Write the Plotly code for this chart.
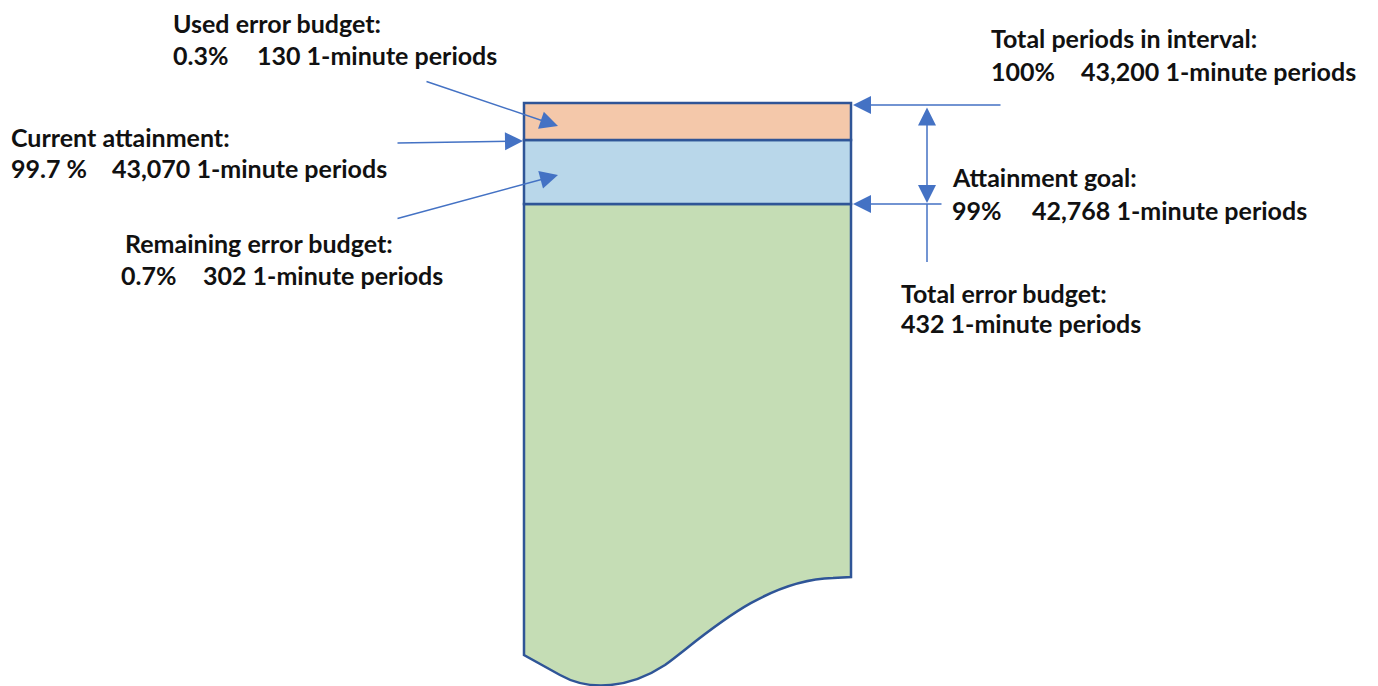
import plotly.graph_objects as go

# values shown in the diagram
label_titles = ["Used error budget:", "Current attainment:", "Remaining error budget:",
                "Total periods in interval:", "Attainment goal:", "Total error budget:"]
label_percents = ["0.3%", "99.7 %", "0.7%", "100%", "99%", ""]
label_periods = [130, 43070, 302, 43200, 42768, 432]

# diagram geometry (pixel space, y grows downwards)
title_pos = [(174, 23), (12, 137), (126, 243), (992, 38), (953, 177), (902, 293)]
value_pos = [(174, 55, 258), (12, 168, 113), (122, 275, 204),
             (992, 71, 1082), (953, 210, 1033), (902, 323, 902)]

W, H = 1378, 686
PAD = 8  # page body margin
TX = -3  # font side bearing
RX0, RX1 = 524, 851
Y_TOP, Y_USED, Y_GOAL = 103, 140, 204

BORDER = "#2F5597"
ARROW = "#4472C4"
FONT = "Lato"
FS = 25

fig = go.Figure()
fig.add_trace(go.Scatter(x=[0, W], y=[0, H], mode="markers", marker=dict(opacity=0),
                         hoverinfo="skip", showlegend=False))

# green body with wavy bottom
fig.add_shape(type="path", xref="x", yref="y",
              path=(f"M {RX0},{Y_GOAL} L {RX1},{Y_GOAL} L {RX1},577 L 833,578 "
                    f"C 760,580 700,640 665,665 C 630,688 590,692 560,675 L {RX0},655 Z"),
              fillcolor="#C5DDB5", line=dict(color=BORDER, width=2.5), layer="below")
fig.add_shape(type="rect", x0=RX0, x1=RX1, y0=Y_USED, y1=Y_GOAL,
              fillcolor="#B9D7EA", line=dict(color=BORDER, width=2.5), layer="below")
fig.add_shape(type="rect", x0=RX0, x1=RX1, y0=Y_TOP, y1=Y_USED,
              fillcolor="#F4C8AA", line=dict(color=BORDER, width=2.5), layer="below")

# vertical extension of the goal dimension line
fig.add_shape(type="line", x0=927, x1=927, y0=Y_GOAL, y1=262,
              line=dict(color=ARROW, width=1.5))


def arrow(x0, y0, x1, y1, side="end"):
    fig.add_annotation(x=x1, y=y1, ax=x0, ay=y0, xref="x", yref="y", axref="x", ayref="y",
                       text="", showarrow=True, arrowhead=2, arrowsize=2.4,
                       arrowwidth=1.5, arrowcolor=ARROW, arrowside=side,
                       startarrowhead=2, startarrowsize=2.4)


arrow(425, 81, 558, 126)
arrow(396, 143, 523, 141)
arrow(396, 219, 558, 175)
arrow(1002, 105, 853, 105)
arrow(943, 204, 853, 204)
arrow(927, 106, 927, 203, side="end+start")

for i, t in enumerate(label_titles):
    x, y = title_pos[i]
    fig.add_annotation(x=x + TX, y=y, text=f"<b>{t}</b>", showarrow=False,
                       xanchor="left", yanchor="middle",
                       font=dict(family=FONT, size=FS, color="#111111"))
    vx, vy, px = value_pos[i]
    if label_percents[i]:
        fig.add_annotation(x=vx + TX, y=vy, text=f"<b>{label_percents[i]}</b>", showarrow=False,
                           xanchor="left", yanchor="middle",
                           font=dict(family=FONT, size=FS, color="#111111"))
    fig.add_annotation(x=px + TX, y=vy, text=f"<b>{label_periods[i]:,} 1-minute periods</b>",
                       showarrow=False, xanchor="left", yanchor="middle",
                       font=dict(family=FONT, size=FS, color="#111111"))

fig.update_xaxes(range=[PAD, W + PAD], visible=False, fixedrange=True)
fig.update_yaxes(range=[H + PAD, PAD], visible=False, fixedrange=True)
fig.update_layout(width=W, height=H, margin=dict(l=0, r=0, t=0, b=0),
                  plot_bgcolor="white", paper_bgcolor="white", showlegend=False)

fig.write_html("out.html")
